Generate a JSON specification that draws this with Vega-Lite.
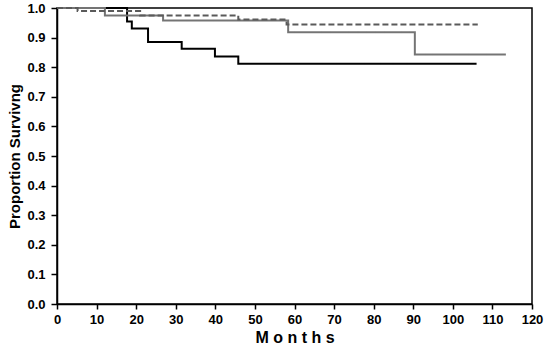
{
  "$schema": "https://vega.github.io/schema/vega-lite/v6.json",
  "width": 475,
  "height": 296,
  "autosize": "none",
  "padding": {"left": 57, "top": 8, "right": 13, "bottom": 49},
  "background": "white",
  "config": {
    "view": {"stroke": "#000000", "strokeWidth": 1.5},
    "font": "Liberation Sans"
  },
  "data": {
    "values": [
      {"group": "A", "months": 0, "surv": 1.0},
      {"group": "A", "months": 17.7, "surv": 0.954},
      {"group": "A", "months": 18.9, "surv": 0.931},
      {"group": "A", "months": 23.0, "surv": 0.885},
      {"group": "A", "months": 31.5, "surv": 0.862},
      {"group": "A", "months": 39.9, "surv": 0.836},
      {"group": "A", "months": 45.8, "surv": 0.812},
      {"group": "A", "months": 106, "surv": 0.812},
      {"group": "B", "months": 0, "surv": 1.0},
      {"group": "B", "months": 12.1, "surv": 0.975},
      {"group": "B", "months": 26.8, "surv": 0.958},
      {"group": "B", "months": 58.4, "surv": 0.918},
      {"group": "B", "months": 90.4, "surv": 0.843},
      {"group": "B", "months": 113.4, "surv": 0.843},
      {"group": "C", "months": 0, "surv": 1.0},
      {"group": "C", "months": 5.2, "surv": 0.99},
      {"group": "C", "months": 21, "surv": 0.975},
      {"group": "C", "months": 45.8, "surv": 0.961},
      {"group": "C", "months": 58, "surv": 0.944},
      {"group": "C", "months": 106.3, "surv": 0.944}
    ]
  },
  "mark": {"type": "line", "interpolate": "step-after", "strokeWidth": 2},
  "encoding": {
    "x": {
      "field": "months", "type": "quantitative",
      "scale": {"domain": [0, 120], "nice": false},
      "axis": {
        "values": [0,10,20,30,40,50,60,70,80,90,100,110,120],
        "title": "M o n t h s",
        "titleFont": "Liberation Sans", "titleFontSize": 16, "titleFontWeight": "bold",
        "titleColor": "#000000", "titlePadding": 3,
        "labelFont": "Liberation Sans", "labelFontSize": 13, "labelFontWeight": "bold",
        "labelColor": "#000000", "labelPadding": 4,
        "domainColor": "#000000", "domainWidth": 1.5,
        "tickColor": "#000000", "tickWidth": 1.5, "tickSize": 5,
        "grid": false, "labelFlush": false
      }
    },
    "y": {
      "field": "surv", "type": "quantitative",
      "scale": {"domain": [0, 1], "nice": false},
      "axis": {
        "values": [0,0.1,0.2,0.3,0.4,0.5,0.6,0.7,0.8,0.9,1.0],
        "format": ".1f",
        "title": "Proportion Survivng",
        "titleFont": "Liberation Sans", "titleFontSize": 15, "titleFontWeight": "bold",
        "titleColor": "#000000", "titlePadding": 4,
        "labelFont": "Liberation Sans", "labelFontSize": 13, "labelFontWeight": "bold",
        "labelColor": "#000000", "labelPadding": 6,
        "domainColor": "#000000", "domainWidth": 1.5,
        "tickColor": "#000000", "tickWidth": 1.5, "tickSize": 6,
        "grid": false, "labelFlush": false
      }
    },
    "color": {
      "field": "group", "type": "nominal",
      "scale": {"domain": ["A", "B", "C"], "range": ["#000000", "#747474", "#5a5a5a"]},
      "legend": null
    },
    "strokeDash": {
      "field": "group", "type": "nominal",
      "scale": {"domain": ["A", "B", "C"], "range": [[1, 0], [1, 0], [6, 3]]},
      "legend": null
    }
  }
}
